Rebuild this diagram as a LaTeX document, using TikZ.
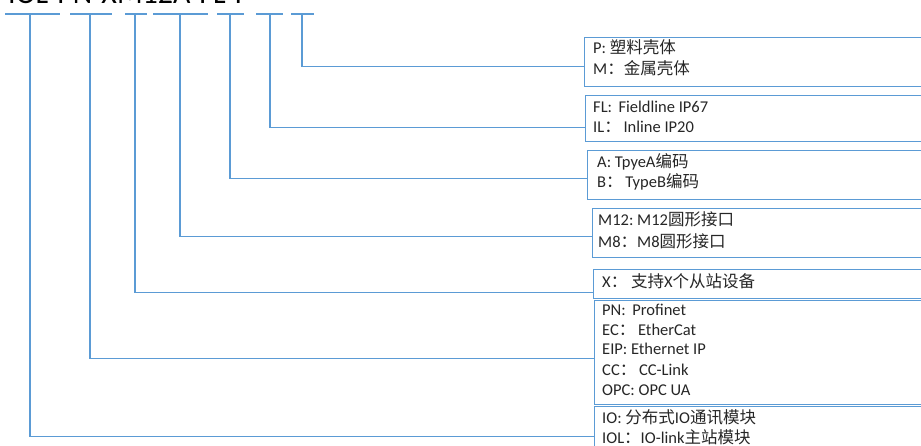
\documentclass[tikz,border=0pt]{standalone}
\usepackage{fontspec}
\setmainfont{Carlito}
\newfontfamily\cjk{Noto Sans CJK SC}
\definecolor{lineblue}{HTML}{5B9BD5}
\definecolor{txtgray}{HTML}{262626}
\begin{document}
\begin{tikzpicture}[x=1pt,y=-1pt,
  conn/.style={draw=lineblue, line width=1.6pt},
  box/.style={draw=lineblue, line width=1.2pt, rectangle, anchor=north west, inner sep=0pt, minimum width=420pt},
  txt/.style={anchor=base west, text=txtgray, inner sep=0pt, font=\fontsize{16.5}{19}\selectfont},
  title/.style={anchor=base west, text=black, inner sep=0pt, font=\fontsize{30}{34}\selectfont}]
\useasboundingbox (0,0) rectangle (921,446);
\clip (0,0) rectangle (921,446);
% title (cut off at top)
\node[title] (ttl) at (8,3.5) {IOL-PN-XM12A-FL-P};
% boxes
\node[box, minimum height=49pt] (b1) at (584,37) {};
\node[box, minimum height=46pt] (b2) at (585,95) {};
\node[box, minimum height=49pt] (b3) at (587,150) {};
\node[box, minimum height=49pt] (b4) at (592,208) {};
\node[box, minimum height=29pt] (b5) at (593,269) {};
\node[box, minimum height=104pt] (b6) at (594,300) {};
\node[box, minimum height=60pt] (b7) at (594,406) {};
% texts
\node[txt] (t1a) at (593,54) {P: {\cjk 塑料壳体}};
\node[txt] (t1b) at (593,75) {M{\cjk ：金属壳体}};
\node[txt] (t2a) at (593,113) {FL:\ \,Fieldline IP67};
\node[txt] (t2b) at (593,133) {IL{\cjk ：}\,Inline IP20};
\node[txt] (t3a) at (597,168) {A:\ TpyeA{\cjk 编码}};
\node[txt] (t3b) at (597,188) {B{\cjk ：}\,TypeB{\cjk 编码}};
\node[txt] (t4a) at (598,226) {M12:\ M12{\cjk 圆形接口}};
\node[txt] (t4b) at (598,248) {M8{\cjk ：}M8{\cjk 圆形接口}};
\node[txt] (t5) at (602,288) {X{\cjk ：}\ {\cjk 支持}X{\cjk 个从站设备}};
\node[txt] (t6a) at (602,316) {PN:\ \,Profinet};
\node[txt] (t6b) at (602,336) {EC{\cjk ：}\,EtherCat};
\node[txt] (t6c) at (602,355) {EIP:\ Ethernet IP};
\node[txt] (t6d) at (602,375) {CC{\cjk ：}\,CC-Link};
\node[txt] (t6e) at (602,395) {OPC: OPC UA};
\node[txt] (t7a) at (602,423) {IO:\ {\cjk 分布式}IO{\cjk 通讯模块}};
\node[txt] (t7b) at (602,443) {IOL{\cjk ：}IO-link{\cjk 主站模块}};
% tick coordinates
\coordinate (k7) at (30,14);
\coordinate (k6) at (90,14);
\coordinate (k5) at (135,14);
\coordinate (k4) at (180,14);
\coordinate (k3) at (230,14);
\coordinate (k2) at (270,14);
\coordinate (k1) at (302,14);
% tick bars
\draw[conn] (k7) ++(-25,0) -- ++(55,0);
\draw[conn] (k6) ++(-20,0) -- ++(42,0);
\draw[conn] (k5) ++(-10,0) -- ++(22,0);
\draw[conn] (k4) ++(-27,0) -- ++(55,0);
\draw[conn] (k3) ++(-13,0) -- ++(27,0);
\draw[conn] (k2) ++(-14,0) -- ++(27,0);
\draw[conn] (k1) ++(-11,0) -- ++(23,0);
% connectors
\draw[conn] (k1) |- ([yshift=-4.5pt]b1.west);
\draw[conn] (k2) |- ([yshift=-9pt]b2.west);
\draw[conn] (k3) |- ([yshift=-3.5pt]b3.west);
\draw[conn] (k4) |- ([yshift=-3.5pt]b4.west);
\draw[conn] (k5) |- ([yshift=-8.5pt]b5.west);
\draw[conn] (k6) |- ([yshift=-6pt]b6.west);
\draw[conn] (k7) |- (b7.west);
\end{tikzpicture}
\end{document}
